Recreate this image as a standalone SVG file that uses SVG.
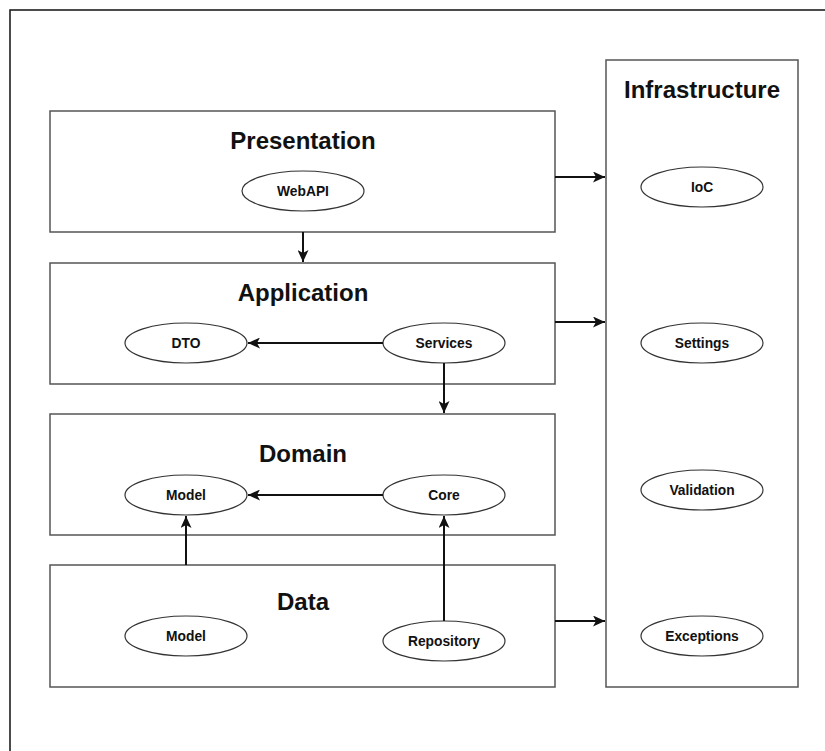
<svg xmlns="http://www.w3.org/2000/svg" width="825" height="751" viewBox="0 0 825 751">
<style>
.box{fill:#fff;stroke:#555;stroke-width:1.5}
.ell{fill:#fff;stroke:#333;stroke-width:1.2}
.title{font-family:"Liberation Sans",Arial,sans-serif;font-weight:bold;font-size:24px;fill:#111;text-anchor:middle}
.lbl{font-family:"Liberation Sans",Arial,sans-serif;font-weight:bold;font-size:13.8px;fill:#111;text-anchor:middle}
.conn{stroke:#111;stroke-width:2;fill:none;marker-end:url(#arr)}
</style>
<defs>
<marker id="arr" markerUnits="userSpaceOnUse" markerWidth="13" markerHeight="11" refX="12" refY="5.5" orient="auto">
<path d="M0,0 L12,5.5 L0,11 L3,5.5 z" fill="#111"/>
</marker>
</defs>
<rect x="0" y="0" width="825" height="751" fill="#fff"/>
<g id="frame"><path d="M10,760 V10 H830" fill="none" stroke="#111" stroke-width="1.5"/></g>

<g id="infrastructure">
<rect class="box" x="606" y="60" width="192" height="627"/>
<text class="title" x="702" y="98">Infrastructure</text>
</g>
<g id="ioc"><ellipse class="ell" cx="702" cy="187" rx="61" ry="20"/><text class="lbl" x="702" y="192">IoC</text></g>
<g id="settings"><ellipse class="ell" cx="702" cy="343" rx="61" ry="20"/><text class="lbl" x="702" y="348">Settings</text></g>
<g id="validation"><ellipse class="ell" cx="702" cy="490" rx="61" ry="20"/><text class="lbl" x="702" y="495">Validation</text></g>
<g id="exceptions"><ellipse class="ell" cx="702" cy="636" rx="61" ry="20"/><text class="lbl" x="702" y="641">Exceptions</text></g>

<g id="presentation">
<rect class="box" x="50" y="111" width="505" height="121"/>
<text class="title" x="303" y="149">Presentation</text>
</g>
<g id="webapi"><ellipse class="ell" cx="303" cy="191" rx="61" ry="20"/><text class="lbl" x="303" y="196">WebAPI</text></g>

<g id="application">
<rect class="box" x="50" y="263" width="505" height="121"/>
<text class="title" x="303" y="301">Application</text>
</g>
<g id="dto"><ellipse class="ell" cx="186" cy="343" rx="61" ry="20"/><text class="lbl" x="186" y="348">DTO</text></g>
<g id="services"><ellipse class="ell" cx="444" cy="343" rx="61" ry="20"/><text class="lbl" x="444" y="348">Services</text></g>

<g id="domain">
<rect class="box" x="50" y="414" width="505" height="121"/>
<text class="title" x="303" y="462">Domain</text>
</g>
<g id="domain-model"><ellipse class="ell" cx="186" cy="495" rx="61" ry="20"/><text class="lbl" x="186" y="500">Model</text></g>
<g id="core"><ellipse class="ell" cx="444" cy="495" rx="61" ry="20"/><text class="lbl" x="444" y="500">Core</text></g>

<g id="data">
<rect class="box" x="50" y="565" width="505" height="122"/>
<text class="title" x="303" y="610">Data</text>
</g>
<g id="data-model"><ellipse class="ell" cx="186" cy="636" rx="61" ry="20"/><text class="lbl" x="186" y="641">Model</text></g>
<g id="repository"><ellipse class="ell" cx="444" cy="641" rx="61" ry="20"/><text class="lbl" x="444" y="646">Repository</text></g>

<g id="connectors">
<path class="conn" d="M303,232 V262"/>
<path class="conn" d="M555,177 H605"/>
<path class="conn" d="M555,322 H605"/>
<path class="conn" d="M555,621 H605"/>
<path class="conn" d="M383,343 H248"/>
<path class="conn" d="M444,363 V413"/>
<path class="conn" d="M383,495 H248"/>
<path class="conn" d="M186,565 V516"/>
<path class="conn" d="M444,621 V516"/>
</g>
</svg>
